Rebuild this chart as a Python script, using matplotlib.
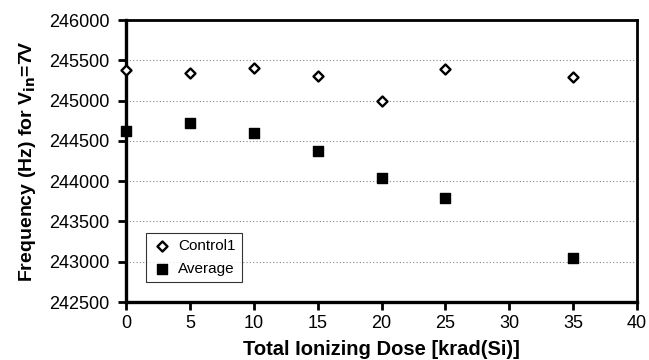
import matplotlib
matplotlib.use("Agg")
import matplotlib.pyplot as plt

dose = [0, 5, 10, 15, 20, 25, 35]
control1 = [245380, 245340, 245400, 245300, 245000, 245390, 245290]
average = [244620, 244725, 244595, 244375, 244040, 243790, 243050]
xticks = [0, 5, 10, 15, 20, 25, 30, 35, 40]
yticks = [242500, 243000, 243500, 244000, 244500, 245000, 245500, 246000]

plt.rcParams['font.family'] = ['Liberation Sans', 'DejaVu Sans']

fig = plt.figure(figsize=(6.49, 3.6), dpi=100)
ax = fig.add_axes([126/649, 1-302/360, (637-126)/649, (302-20)/360])

ax.scatter(dose, control1, marker='D', s=26, facecolor='white', edgecolor='black',
           linewidth=1.7, label='Control1', zorder=3, clip_on=False)
ax.scatter(dose, average, marker='s', s=60, facecolor='black', edgecolor='black',
           label='Average', zorder=3, clip_on=False)

ax.set_xlim(0, 40)
ax.set_ylim(242500, 246000)
ax.set_xticks(xticks)
ax.set_yticks(yticks)
ax.set_xticklabels([str(v) for v in xticks], fontsize=13)
ax.set_yticklabels([str(v) for v in yticks], fontsize=13)
ax.yaxis.grid(True, linestyle=(0, (1, 2)), color='#888888', linewidth=0.8)
ax.set_axisbelow(True)

for s in ['left', 'bottom']:
    ax.spines[s].set_linewidth(2.4)
for s in ['top', 'right']:
    ax.spines[s].set_linewidth(2.0)
ax.tick_params(axis='both', direction='out', length=6, width=2)
ax.tick_params(axis='x', pad=3)
ax.tick_params(axis='y', pad=6)

ax.set_xlabel('Total Ionizing Dose [krad(Si)]', fontsize=14.5, fontweight='bold', labelpad=6)
ax.set_ylabel('Frequency (Hz) for V$_{\\mathbf{in}}$=7V', fontsize=14, fontweight='bold', labelpad=8)

leg = ax.legend(loc='lower left', bbox_to_anchor=(0.039, 0.071), fontsize=11,
                frameon=True, fancybox=False, edgecolor='black', handletextpad=0.4,
                borderpad=0.4, labelspacing=0.6, handlelength=1.3, borderaxespad=0)
leg.get_frame().set_linewidth(0.8)

fig.savefig('out.png', dpi=100)
